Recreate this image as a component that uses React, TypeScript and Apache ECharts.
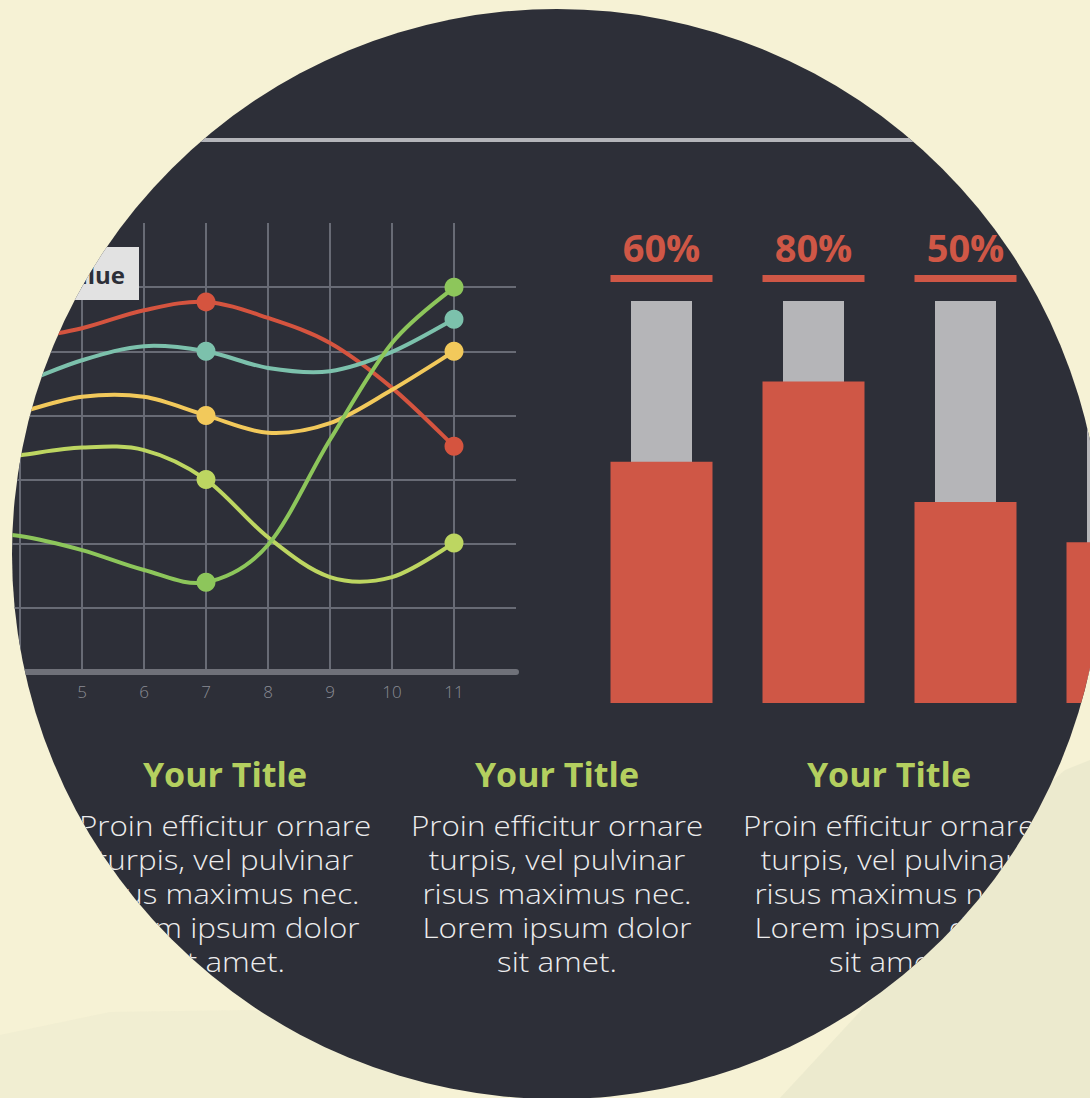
import React, { useEffect, useRef } from "react";
import * as echarts from "echarts";

// ---- line chart data ----
const xValues = [3, 4, 5, 6, 7, 8, 9, 10, 11];
const redLine = [5.05, 5.18, 5.36, 5.64, 5.77, 5.52, 5.13, 4.43, 3.52];
const tealLine = [4.2, 4.5, 4.86, 5.08, 5.0, 4.74, 4.69, 4.99, 5.5];
const yellowLine = [3.8, 4.05, 4.29, 4.29, 4.0, 3.73, 3.88, 4.4, 5.0];
const limeLine = [3.25, 3.38, 3.5, 3.46, 3.0, 2.1, 1.48, 1.48, 2.01];
const greenLine = [2.2, 2.12, 1.9, 1.59, 1.4, 1.98, 3.62, 5.13, 6.0];
const markedX = [7, 11];
const xTickLabels = ["5", "6", "7", "8", "9", "10", "11"];

// ---- bar chart data ----
const barCats = ["A", "B", "C", "D"];
const barPct = [60, 80, 50, 40];
const barFull = [100, 100, 100, 100];
const barLabelShown = [true, true, true, false]; // 4th label lies outside the visible disc

// ---- texts ----
const axisName = "Value";
const blockTitles = ["Your Title", "Your Title", "Your Title"];
const blockBody =
  "Proin efficitur ornare\nturpis, vel pulvinar\nrisus maximus nec.\nLorem ipsum dolor\nsit amet.";

const DARK = "#2d2f38";
const CORAL = "#cf5746";
const FONT = "'Open Sans', Lato, sans-serif";
const OX = 100; // foreground canvas is shifted left by OX so grids may extend past the page

function pairs(ys: number[]) {
  return xValues.map((x, i) => [x, ys[i]]);
}

// Catmull-Rom style smooth path through projected points
function smoothPath(pts: number[][]) {
  let d = `M${pts[0][0]},${pts[0][1]}`;
  for (let i = 0; i < pts.length - 1; i++) {
    const p0 = pts[Math.max(0, i - 1)];
    const p1 = pts[i];
    const p2 = pts[i + 1];
    const p3 = pts[Math.min(pts.length - 1, i + 2)];
    const c1x = p1[0] + (p2[0] - p0[0]) / 6;
    const c1y = p1[1] + (p2[1] - p0[1]) / 6;
    const c2x = p2[0] - (p3[0] - p1[0]) / 6;
    const c2y = p2[1] - (p3[1] - p1[1]) / 6;
    d += ` C${c1x},${c1y} ${c2x},${c2y} ${p2[0]},${p2[1]}`;
  }
  return d;
}

export default function App() {
  const bgRef = useRef<HTMLDivElement>(null);
  const fgRef = useRef<HTMLDivElement>(null);

  useEffect(() => {
    document.body.style.margin = "0";
    const bg = echarts.init(bgRef.current!, null, { renderer: "svg" });
    bg.setOption({
      animation: false,
      backgroundColor: "#f6f2d5",
      graphic: [
        {
          type: "polygon",
          shape: {
            points: [
              [780, 1098], [880, 990], [970, 880], [1030, 800], [1065, 770], [1090, 760], [1090, 1098],
            ],
          },
          style: { fill: "#e4e3c9", opacity: 0.55 },
        },
        {
          type: "polygon",
          shape: {
            points: [
              [0, 1035], [110, 1012], [250, 1010], [330, 1022], [420, 1040], [420, 1098], [0, 1098],
            ],
          },
          style: { fill: "#ebe9cf", opacity: 0.45 },
        },
      ],
    });

    const fg = echarts.init(fgRef.current!, null, { renderer: "svg" });
    const lines = [
      { data: redLine, color: "#d5543f" },
      { data: tealLine, color: "#7cc1ac" },
      { data: yellowLine, color: "#f2c95b" },
      { data: limeLine, color: "#bdd661" },
      { data: greenLine, color: "#8dc65b" },
    ];
    const curveSeries = lines.map((s) => ({
      type: "custom",
      xAxisIndex: 0,
      yAxisIndex: 0,
      data: pairs(s.data),
      encode: { x: 0, y: 1 },
      z: 3,
      renderItem: (params: any, api: any) => {
        if (params.dataIndex !== 0) return null;
        const pts = xValues.map((x, i) => api.coord([x, s.data[i]]));
        return {
          type: "path",
          shape: { pathData: smoothPath(pts) },
          style: { fill: "none", stroke: s.color, lineWidth: 4 },
        };
      },
    }));
    const markerSeries = lines.map((s) => ({
      type: "scatter",
      xAxisIndex: 0,
      yAxisIndex: 0,
      data: pairs(s.data).filter((p) => markedX.includes(p[0])),
      symbol: "circle",
      symbolSize: 19,
      itemStyle: { color: s.color, opacity: 1 },
      z: 4,
    }));

    const gridLine = { color: "#686b75", width: 2 };

    fg.setOption({
      animation: false,
      backgroundColor: DARK,
      grid: [
        { left: OX - 42, top: 223, width: 558, height: 449, containLabel: false },
        { left: OX + 585.5, top: 301, width: 608, height: 402, containLabel: false },
      ],
      xAxis: [
        {
          type: "value",
          gridIndex: 0,
          min: 3,
          max: 12,
          interval: 1,
          axisLine: { show: true, onZero: false, lineStyle: { color: "#6f7179", width: 6 } },
          axisTick: { show: false },
          axisLabel: {
            color: "#8a8c94",
            fontSize: 17,
            fontFamily: FONT,
            fontWeight: 300,
            margin: 11,
            showMaxLabel: false,
            showMinLabel: false,
            formatter: (v: number) => (xTickLabels.includes(String(v)) ? String(v) : ""),
          },
          splitLine: { show: true, showMaxLine: false, lineStyle: gridLine },
        },
        { type: "category", gridIndex: 1, data: barCats, show: false },
        { type: "category", gridIndex: 1, data: barCats, show: false },
      ],
      yAxis: [
        {
          type: "value",
          gridIndex: 0,
          min: 0,
          max: 7,
          interval: 1,
          axisLine: { show: false },
          axisTick: { show: false },
          axisLabel: { show: false },
          splitLine: { show: true, showMaxLine: false, showMinLine: false, lineStyle: gridLine },
        },
        { type: "value", gridIndex: 1, min: 0, max: 100, show: false, splitLine: { show: false } },
      ],
      series: [
        ...curveSeries,
        ...markerSeries,
        {
          type: "bar",
          xAxisIndex: 2,
          yAxisIndex: 1,
          data: barFull.map((v, i) => ({ value: v, label: { show: barLabelShown[i] } })),
          barWidth: 61,
          itemStyle: { color: "#b5b5b8" },
          z: 2,
          label: {
            show: true,
            position: "top",
            distance: 19,
            formatter: (p: any) => `{p|${barPct[p.dataIndex]}%}\n{u| }`,
            rich: {
              p: { fontSize: 38, fontWeight: "bold", color: CORAL, fontFamily: FONT, lineHeight: 56 },
              u: { width: 102, height: 7, lineHeight: 7, backgroundColor: CORAL, fontSize: 1 },
            },
          },
        },
        {
          type: "bar",
          xAxisIndex: 1,
          yAxisIndex: 1,
          data: barPct,
          barWidth: 102,
          itemStyle: { color: CORAL },
          z: 3,
        },
      ],
      graphic: [
        {
          type: "rect",
          shape: { x: 0, y: 138, width: 1400, height: 4 },
          style: { fill: "#b4b5ba" },
        },
        {
          type: "rect",
          shape: { x: OX + 30, y: 247, width: 109, height: 53 },
          style: { fill: "#e2e2e2" },
          z: 10,
        },
        {
          type: "text",
          x: OX + 125,
          y: 274,
          z: 11,
          style: {
            text: axisName,
            fill: DARK,
            font: `bold 24px ${FONT}`,
            textAlign: "right",
            textVerticalAlign: "middle",
          },
        },
        ...blockTitles.flatMap((t, i) => {
          const cx = OX + 225 + i * 332;
          return [
            {
              type: "text",
              x: cx,
              y: 774,
              style: {
                text: t,
                fill: "#b4cf5f",
                font: `bold 34px ${FONT}`,
                textAlign: "center",
                textVerticalAlign: "middle",
              },
            },
            {
              type: "text",
              x: cx,
              y: 808,
              scaleX: 1.12,
              style: {
                text: blockBody,
                fill: "#ececed",
                font: `300 28px ${FONT}`,
                lineHeight: 34,
                textAlign: "center",
                textVerticalAlign: "top",
              },
            },
          ];
        }),
      ],
    });

    return () => {
      bg.dispose();
      fg.dispose();
    };
  }, []);

  return (
    <div style={{ position: "relative", width: 1090, height: 1098, overflow: "hidden" }}>
      <div ref={bgRef} style={{ position: "absolute", left: 0, top: 0, width: 1090, height: 1098 }} />
      <div
        ref={fgRef}
        style={{
          position: "absolute",
          left: -OX,
          top: 0,
          width: 1400,
          height: 1098,
          clipPath: `circle(545px at ${557 + OX}px 554px)`,
        }}
      />
    </div>
  );
}
